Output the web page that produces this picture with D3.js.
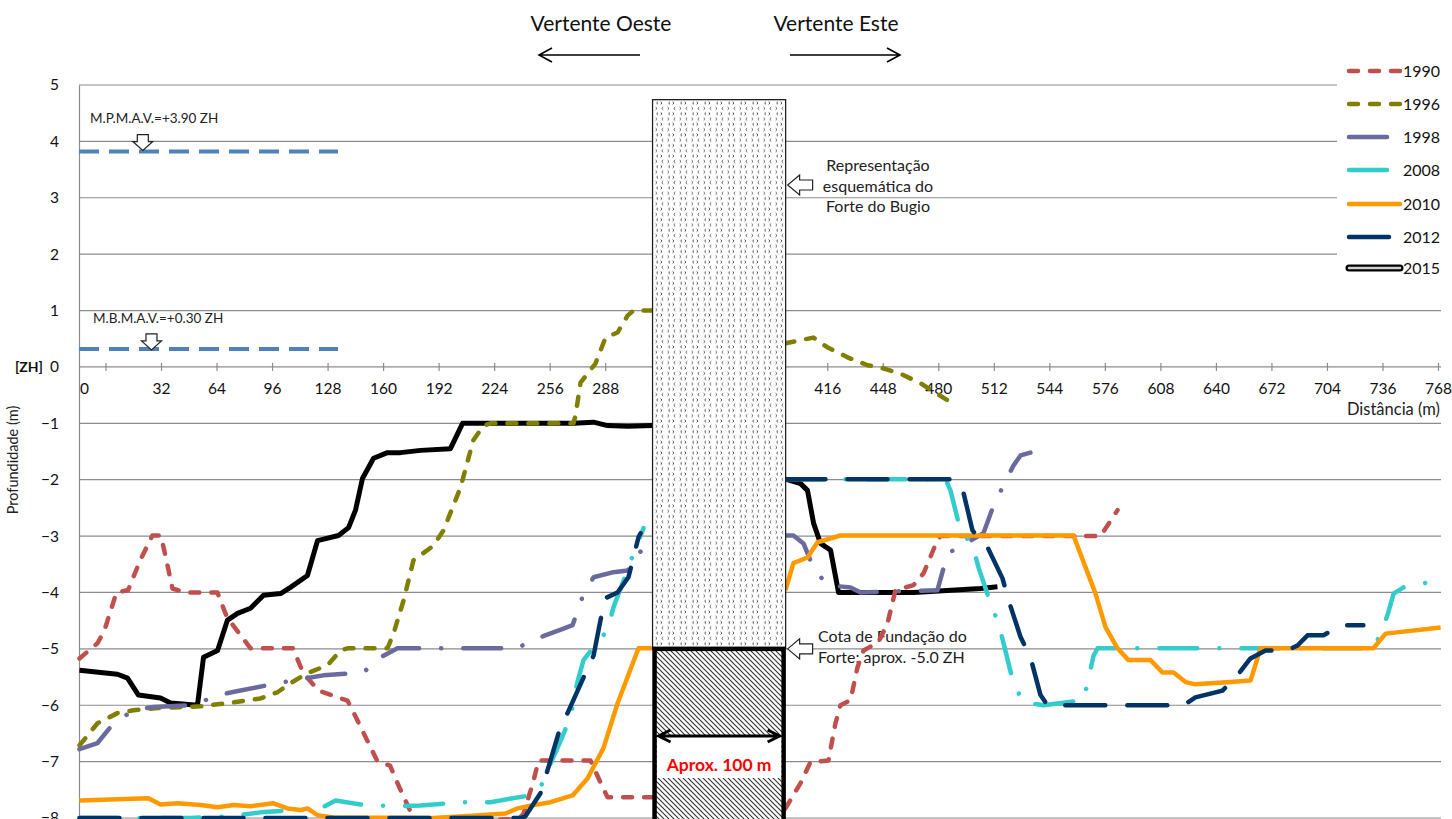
<!DOCTYPE html>
<html><head><meta charset="utf-8">
<script src="https://cdn.jsdelivr.net/npm/d3@7"></script>
<style>
body{margin:0;background:#fff;}
svg{display:block;font-family:Lato,"Open Sans",sans-serif;}
</style></head><body>
<svg id="c" width="1452" height="819"></svg>
<script>
// ---------- DATA ----------
const years = ["1990","1996","1998","2008","2010","2012","2015"];
const xTicks = [0,32,64,96,128,160,192,224,256,288,320,352,384,416,448,480,512,544,576,608,640,672,704,736,768];
const hiddenTickLabels = [320,352,384];
const yTicks = [5,4,3,2,1,0,-1,-2,-3,-4,-5,-6,-7,-8];
const refLevels = [3.82, 0.32];
const refLabels = ["M.P.M.A.V.=+3.90 ZH", "M.B.M.A.V.=+0.30 ZH"];
const fort = {x0:315.3, x1:392, top:4.74, base:-5};

const s1990 = [[-15,-5.17],[-4.6,-4.9],[-0.6,-4.67],[6.3,-4.0],[13,-3.96],[20,-3.43],[27,-2.99],[32,-2.99],[38.6,-3.93],[46,-4.0],[64.5,-4.0],[70,-4.44],[83.6,-4.99],[108,-4.99],[114,-5.43],[122.8,-5.74],[139.5,-5.92],[143,-6.13],[156.8,-7.0],[164,-7.07],[170,-7.5],[177.5,-8.0],[200,-8.05],[238,-8.02],[241,-7.92],[246.7,-7.34],[249.6,-6.98],[279.5,-6.98],[286.5,-7.45],[289.3,-7.63],[315.3,-7.63],
 null,
 [391.9,-7.83],[400.6,-7.38],[406.3,-7.01],[416.7,-6.98],[420.7,-6.32],[423.6,-6.0],[429.4,-5.91],[433.4,-5.33],[436.9,-5.03],[445.5,-4.88],[450.7,-4.55],[455.3,-3.96],[465.7,-3.87],[471.5,-3.66],[479.5,-3.07],[481.3,-3.0],[573.5,-3.0],[583.3,-2.54]];

const s1996 = [[-15,-6.71],[-4.6,-6.32],[6.9,-6.14],[16.1,-6.09],[30,-6.05],[54.8,-6.02],[73.8,-5.95],[89.3,-5.88],[99.1,-5.77],[106.6,-5.61],[116.4,-5.43],[128,-5.29],[135.4,-5.03],[139.5,-4.99],[162.5,-4.99],[166,-4.73],[171.8,-4.14],[177.5,-3.43],[189,-3.17],[194.8,-2.9],[204.6,-2.14],[212,-1.3],[217.9,-1.04],[221.9,-1.0],[269.7,-1.0],[270.9,-0.86],[273.8,-0.28],[282.4,0.06],[288.2,0.52],[295.1,0.61],[300.9,0.91],[304.3,1.0],[315.3,1.0],
 null,
 [391.9,0.42],[408,0.52],[416,0.35],[427.7,0.17],[439.2,0.03],[446.7,-0.01],[458.2,-0.12],[469.7,-0.29],[489.9,-0.68]];

const s1998 = [[-15,-6.78],[-4.6,-6.67],[4.6,-6.32],[16.1,-6.09],[27.7,-6.03],[50.7,-6.0],[64.6,-5.82],[77.8,-5.74],[99.1,-5.61],[125.6,-5.47],[148.7,-5.42],[157.3,-5.17],[168.3,-4.99],[238,-4.99],[240.3,-4.94],[251.9,-4.78],[264,-4.64],[269.2,-4.58],[274.9,-4.08],[281.3,-3.73],[292.8,-3.64],[300.9,-3.61],[314.1,-3.02],
 null,
 [391.9,-2.99],[396.5,-2.99],[402.3,-3.13],[408.1,-3.57],[416.1,-3.87],[429.4,-3.91],[435.2,-4.0],[479.5,-3.96],[485.3,-3.31],[506,-2.95],[511.8,-2.46],[517.6,-2.1],[523.3,-1.75],[527.4,-1.57],[533.1,-1.52]];

const s2008 = [[-15,-8.0],[49,-8.0],[72,-7.97],[89.3,-7.9],[112.4,-7.85],[124,-7.83],[132.6,-7.69],[147,-7.76],[164.3,-7.79],[181.6,-7.78],[204.6,-7.72],[221.9,-7.72],[234.6,-7.65],[245,-7.6],[250.7,-7.46],[254.8,-7.15],[260.5,-6.76],[268,-6.21],[272,-5.59],[275.5,-5.2],[281.3,-4.97],[289.3,-4.67],[292.8,-4.26],[298.6,-3.79],[304.3,-3.31],[310.1,-2.86],
 null,
 [391.9,-1.99],[484.1,-1.99],[487,-2.19],[492.8,-2.9],[499.7,-3.16],[503.2,-3.56],[510.1,-4.19],[514.7,-4.55],[517.6,-4.9],[523.3,-5.61],[529.1,-5.95],[540.6,-6.0],[563.7,-5.91],[566.6,-5.52],[569.5,-5.12],[571.8,-4.99],[730.8,-4.99],[734.9,-4.73],[738.9,-4.4],[742.4,-4.02],[748.1,-3.91],[762.5,-3.82],[763.7,-3.79]];

const s2010 = [[-15,-7.69],[24.8,-7.65],[31.7,-7.76],[41.5,-7.74],[54.8,-7.77],[64.6,-7.81],[73.8,-7.77],[83.6,-7.79],[96.8,-7.74],[104.9,-7.83],[112.4,-7.86],[116.4,-7.83],[122.2,-7.95],[131.4,-7.99],[189,-8.0],[216.1,-7.95],[230.5,-7.92],[237.5,-7.83],[245,-7.78],[256.5,-7.72],[269.2,-7.6],[277.8,-7.3],[287,-6.76],[295.1,-5.97],[307.2,-4.99],[315.3,-4.99],
 null,
 [391.9,-3.96],[396.5,-3.48],[404.6,-3.38],[410.4,-3.11],[423.6,-2.99],[557.9,-2.99],[570.6,-4.02],[576.4,-4.62],[583.3,-4.99],[589.6,-5.2],[602.3,-5.2],[609.2,-5.42],[615.6,-5.42],[622.5,-5.59],[628.2,-5.63],[648.4,-5.59],[660,-5.56],[665.7,-4.99],[730.8,-4.99],[737.8,-4.73],[769.5,-4.62]];

const s2012 = [[-15,-8.0],[239.2,-8.0],[242,-7.97],[250.7,-7.56],[254.8,-7.15],[261.1,-6.5],[266.3,-6.14],[275.5,-5.51],[281.3,-5.12],[285.3,-4.49],[288.2,-4.1],[295.1,-4.0],[301.4,-3.73],[307.2,-3.02],[308.4,-2.95],
 null,
 [391.9,-1.99],[488.8,-1.99],[494.5,-2.23],[499.7,-2.9],[508.4,-3.2],[517,-3.75],[520.5,-4.14],[527.4,-4.79],[533.1,-5.15],[538.9,-5.82],[542.9,-6.0],[621.3,-6.0],[628.2,-5.86],[643.8,-5.74],[652.4,-5.47],[659.9,-5.17],[668.6,-5.03],[681.3,-5.03],[687,-4.94],[692.8,-4.76],[702,-4.76],[711.8,-4.58],[725,-4.58]];

const s2015 = [[-15,-5.38],[6.9,-5.45],[12.7,-5.52],[19,-5.82],[31.7,-5.87],[37.5,-5.96],[53,-6.0],[56.5,-5.15],[64.6,-5.03],[70.3,-4.49],[76.1,-4.37],[83.6,-4.28],[91.1,-4.05],[100.9,-4.02],[106.6,-3.91],[116.4,-3.7],[122.2,-3.08],[134.3,-2.99],[140.1,-2.85],[144.1,-2.54],[148.1,-1.98],[154.5,-1.62],[162.5,-1.52],[170,-1.52],[181.6,-1.48],[198.8,-1.45],[205.8,-1.0],[269.7,-1.0],[281.3,-0.98],[289.3,-1.04],[300.9,-1.05],[315.3,-1.04],
 null,
 [391.9,-1.99],[400.6,-2.07],[404.6,-2.19],[408.1,-2.77],[412.1,-3.13],[417.9,-3.25],[422.5,-4.0],[465.7,-4.0],[504.3,-3.93],[514.1,-3.9]];

const seriesData = {"1990":s1990,"1996":s1996,"1998":s1998,"2008":s2008,"2010":s2010,"2012":s2012,"2015":s2015};

// ---------- STYLE ----------
const styles = {
  "1990":{color:"#C0504D",dash:"9,12",w:4.5},
  "1996":{color:"#7F7F00",dash:"9,12",w:4.5},
  "1998":{color:"#6A6A9E",dash:"38,22,0.1,22",w:4.5},
  "2008":{color:"#33CCCC",dash:"38,22,0.1,22",w:4.5},
  "2010":{color:"#FF9900",dash:null,w:4.5},
  "2012":{color:"#003366",dash:"40,22",w:4.5},
  "2015":{color:"#000000",dash:null,w:5}
};
const drawOrder = ["2015","1990","1996","1998","2008","2010","2012"];
const FONT = "Lato, 'Open Sans', sans-serif";

const svg = d3.select("#c");
const x = d3.scaleLinear().domain([0,768]).range([105.5,1438]);
const y = d3.scaleLinear().domain([-8,5]).range([818,85]);
const xL = 79, xR = 1441;
const grid = "#8c8c8c";

// defs / patterns
const defs = svg.append("defs");
const pd = defs.append("pattern").attr("id","dots").attr("patternUnits","userSpaceOnUse")
  .attr("width",12).attr("height",10.6);
pd.append("rect").attr("width",12).attr("height",10.6).attr("fill","#fff");
pd.append("path").attr("d","M3.2,1.1 L1.8,2.4 L3.2,3.7 M7.6,1.1 L9,2.4 L7.6,3.7 M10,6.4 L8.6,7.7 L10,9 M0.6,6.4 L2,7.7 L0.6,9")
  .attr("stroke","#333").attr("stroke-width",0.85).attr("fill","none");
const ph = defs.append("pattern").attr("id","hatch").attr("patternUnits","userSpaceOnUse")
  .attr("width",5).attr("height",5);
ph.append("rect").attr("width",5).attr("height",5).attr("fill","#fff");
ph.append("path").attr("d","M-1,-1 L6,6 M-1,4 L1,6 M4,-1 L6,1").attr("stroke","#333").attr("stroke-width",1.1);

// gridlines
svg.append("g").selectAll("line").data(yTicks).join("line")
  .attr("x1",xL).attr("x2",xR).attr("y1",d=>y(d)).attr("y2",d=>y(d))
  .attr("stroke",grid).attr("stroke-width",1.2);

// y axis
const yAx = svg.append("g").attr("transform",`translate(${xL},0)`)
  .call(d3.axisLeft(y).tickValues(yTicks).tickSize(0).tickPadding(20));
yAx.attr("font-family",FONT).attr("font-size",15.5);
yAx.select(".domain").attr("stroke",grid).attr("stroke-width",1.2);
yAx.selectAll("text").attr("fill","#111");

// x axis
const xAx = svg.append("g").attr("transform",`translate(0,${y(0)-4})`)
  .call(d3.axisBottom(x).tickValues(xTicks).tickSize(8).tickPadding(12)
    .tickFormat(d=>hiddenTickLabels.includes(d)?"":d));
xAx.attr("font-family",FONT).attr("font-size",15.5);
xAx.select(".domain").remove();
xAx.selectAll("line").attr("stroke",grid).attr("stroke-width",1.2);
xAx.selectAll("text").attr("fill","#111");
xAx.selectAll(".tick").filter(d=>d===0).select("text").attr("x",xL+5-x(0));

svg.append("text").attr("x",18).attr("y",460).attr("transform","rotate(-90,18,460)")
  .attr("text-anchor","middle").attr("font-size",14.5).attr("fill","#222").text("Profundidade (m)");
svg.append("text").attr("x",29).attr("y",y(0)+5).attr("text-anchor","middle")
  .attr("font-size",14).attr("font-weight","bold").attr("fill","#111").text("[ZH]");
svg.append("text").attr("x",1440).attr("y",415).attr("text-anchor","end")
  .attr("font-size",16.5).attr("fill","#222").text("Distância (m)");

// reference levels
svg.append("g").selectAll("line").data(refLevels).join("line")
  .attr("x1",xL).attr("x2",x(134)).attr("y1",d=>y(d)).attr("y2",d=>y(d))
  .attr("stroke","#4F81BD").attr("stroke-width",4).attr("stroke-dasharray","20,10");
svg.append("g").selectAll("text").data(refLabels).join("text")
  .attr("x",(d,i)=>i?93:90).attr("y",(d,i)=>y(refLevels[i])-(i?26:29))
  .attr("font-size",13.5).attr("fill","#222").text(d=>d);
function downArrow(cx, tipY){
  return `M${cx-5.5},${tipY-16} H${cx+5.5} V${tipY-9} H${cx+10} L${cx},${tipY} L${cx-10},${tipY-9} H${cx-5.5} Z`;
}
svg.append("path").attr("d",downArrow(x(21.5),y(refLevels[0])-1)).attr("fill","#fff").attr("stroke","#222").attr("stroke-width",1.2);
svg.append("path").attr("d",downArrow(x(26.5),y(refLevels[1])+1)).attr("fill","#fff").attr("stroke","#222").attr("stroke-width",1.2);

// annotation under lines
const cota = svg.append("text").attr("font-size",16).attr("fill","#222");
cota.append("tspan").attr("x",818).attr("y",y(fort.base)-7).text("Cota de Fundação do");
cota.append("tspan").attr("x",818).attr("y",y(fort.base)+14).text("Forte: aprox. -5.0 ZH");

// series
const line = d3.line().defined(d=>d!==null).x(d=>x(d[0])).y(d=>y(d[1]));
svg.append("g").selectAll("path").data(drawOrder).join("path")
  .attr("d",k=>line(seriesData[k]))
  .attr("fill","none").attr("stroke",k=>styles[k].color).attr("stroke-width",k=>styles[k].w)
  .attr("stroke-dasharray",k=>styles[k].dash).attr("stroke-linecap",k=>styles[k].dash?"round":"butt")
  .attr("stroke-linejoin","round");

// fort
const fx0 = x(fort.x0), fx1 = x(fort.x1);
svg.append("rect").attr("x",fx0).attr("y",y(fort.top)).attr("width",fx1-fx0).attr("height",y(fort.base)-y(fort.top))
  .attr("fill","url(#dots)").attr("stroke","#222").attr("stroke-width",1.3);
svg.append("rect").attr("x",fx0+2).attr("y",y(fort.base)).attr("width",fx1-fx0-4).attr("height",200)
  .attr("fill","url(#hatch)").attr("stroke","#000").attr("stroke-width",4.5);
svg.append("rect").attr("x",fx0+4.5).attr("y",737).attr("width",fx1-fx0-9).attr("height",41).attr("fill","#fff");
// dimension arrow
const ay = 736;
svg.append("path").attr("d",`M${fx0+6},${ay} H${fx1-6} M${fx0+18},${ay-6} L${fx0+6},${ay} L${fx0+18},${ay+6} M${fx1-18},${ay-6} L${fx1-6},${ay} L${fx1-18},${ay+6}`)
  .attr("fill","none").attr("stroke","#000").attr("stroke-width",3);
svg.append("text").attr("x",(fx0+fx1)/2).attr("y",771).attr("text-anchor","middle")
  .attr("font-size",17.5).attr("font-weight","bold").attr("fill","#FF0000").text("Aprox. 100 m");

function leftArrow(tx, cy){
  return `M${tx},${cy} L${tx+12},${cy-10} V${cy-5} H${tx+25} V${cy+5} H${tx+12} V${cy+10} Z`;
}
svg.append("path").attr("d",leftArrow(fx1+2,185)).attr("fill","#fff").attr("stroke","#222").attr("stroke-width",1.2);
svg.append("path").attr("d",leftArrow(fx1+2,y(fort.base))).attr("fill","#fff").attr("stroke","#222").attr("stroke-width",1.2);
const rep = svg.append("text").attr("font-size",16).attr("fill","#222").attr("text-anchor","middle");
["Representação","esquemática do","Forte do Bugio"].forEach((t,i)=>rep.append("tspan").attr("x",878).attr("y",171+i*20.5).text(t));

// header
svg.append("text").attr("x",601).attr("y",31).attr("text-anchor","middle").attr("font-size",21).attr("fill","#111").text("Vertente Oeste");
svg.append("text").attr("x",836).attr("y",31).attr("text-anchor","middle").attr("font-size",21).attr("fill","#111").text("Vertente Este");
svg.append("path").attr("d","M640,55 H539 M552,48 L539,55 L552,62 M790,55 H900 M887,48 L900,55 L887,62")
  .attr("fill","none").attr("stroke","#000").attr("stroke-width",1.6);

// legend
const lg = svg.append("g");
lg.append("rect").attr("x",1337).attr("y",55).attr("width",115).attr("height",230).attr("fill","#fff");
const ly = [71,104,137,170,204,237,268];
years.forEach((k,i)=>{
  const st = styles[k];
  if(k==="2015"){
    lg.append("line").attr("x1",1349).attr("x2",1400).attr("y1",ly[i]).attr("y2",ly[i]).attr("stroke","#000").attr("stroke-width",7).attr("stroke-linecap","round");
    lg.append("line").attr("x1",1349).attr("x2",1400).attr("y1",ly[i]).attr("y2",ly[i]).attr("stroke","#d0d0d0").attr("stroke-width",2.5).attr("stroke-linecap","round");
  } else {
    lg.append("line").attr("x1",1349).attr("x2",k==="2010"?1400:1401).attr("y1",ly[i]).attr("y2",ly[i])
      .attr("stroke",st.color).attr("stroke-width",st.w).attr("stroke-dasharray",st.dash).attr("stroke-linecap","round");
  }
  lg.append("text").attr("x",1403).attr("y",ly[i]+6).attr("font-size",16).attr("fill","#111").text(k);
});
</script></body></html>
